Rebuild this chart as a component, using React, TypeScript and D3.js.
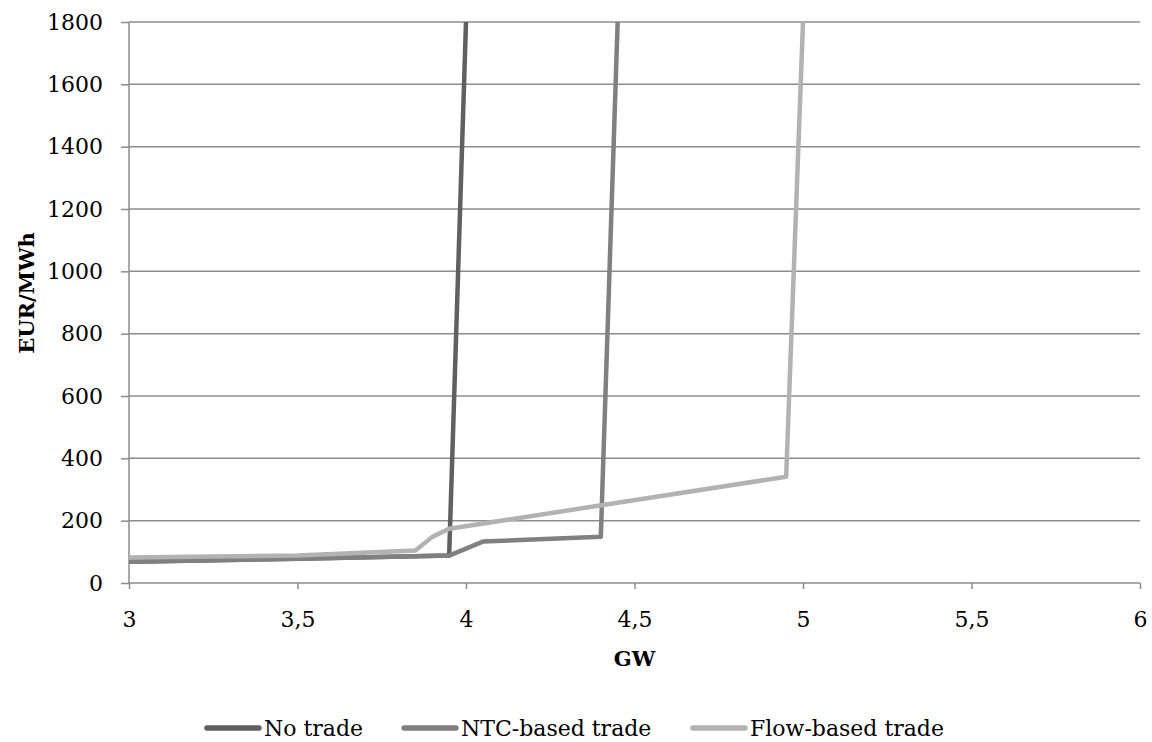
import { useEffect, useRef } from "react";
import * as d3 from "d3";

const width = 1152;
const height = 742;
const margin = { top: 22, right: 12, bottom: 159, left: 129 };

// GW / EUR per MWh
const noTradeX = [3, 3.5, 3.95, 4];
const noTradeY = [68, 78, 88, 1800];
const ntcX = [3, 3.5, 3.95, 4.05, 4.4, 4.45];
const ntcY = [68, 78, 88, 133, 148, 1800];
const flowX = [3, 3.5, 3.85, 3.9, 3.95, 4.95, 5];
const flowY = [82, 88, 104, 148, 174, 341, 1800];

const xTicks = [3, 3.5, 4, 4.5, 5, 5.5, 6];
const yTicks = [0, 200, 400, 600, 800, 1000, 1200, 1400, 1600, 1800];

const series = [
  { name: "No trade", xs: noTradeX, ys: noTradeY, color: "#606060" },
  { name: "NTC-based trade", xs: ntcX, ys: ntcY, color: "#808080" },
  { name: "Flow-based trade", xs: flowX, ys: flowY, color: "#b2b2b2" },
];

const font = "'DejaVu Serif', serif";
const fontSize = 22;
const gridColor = "#8c8c8c";

export default function App() {
  const svgRef = useRef<SVGSVGElement>(null);

  useEffect(() => {
    if (!svgRef.current) return;
    const svg = d3.select(svgRef.current);
    svg.selectAll("*").remove();

    const x = d3.scaleLinear().domain([3, 6]).range([margin.left, width - margin.right]);
    const y = d3.scaleLinear().domain([0, 1800]).range([height - margin.bottom, margin.top]);

    // horizontal gridlines
    svg
      .append("g")
      .selectAll("line")
      .data(yTicks.filter((t) => t > 0))
      .join("line")
      .attr("x1", margin.left)
      .attr("x2", width - margin.right)
      .attr("y1", (d) => y(d))
      .attr("y2", (d) => y(d))
      .attr("stroke", gridColor)
      .attr("stroke-width", 1.5);

    const yAxis = svg
      .append("g")
      .attr("transform", `translate(${margin.left},0)`)
      .call(d3.axisLeft(y).tickValues(yTicks).tickSize(8).tickPadding(18).tickFormat(d3.format("d")));
    const xAxis = svg
      .append("g")
      .attr("transform", `translate(0,${height - margin.bottom})`)
      .call(
        d3
          .axisBottom(x)
          .tickValues(xTicks)
          .tickSize(6)
          .tickPadding(22)
          .tickFormat((d) => String(d).replace(".", ","))
      );

    [yAxis, xAxis].forEach((a) => {
      a.select(".domain").attr("stroke", gridColor).attr("stroke-width", 1.5);
      a.selectAll(".tick line").attr("stroke", gridColor).attr("stroke-width", 1.5);
      a.selectAll("text").attr("font-family", font).attr("font-size", fontSize).attr("fill", "#000");
    });
    xAxis.select(".domain").attr("d", `M${margin.left},0H${width - margin.right}`);
    yAxis.select(".domain").attr("d", `M0,${margin.top}V${height - margin.bottom}`);

    const line = d3
      .line<[number, number]>()
      .x((d) => x(d[0]))
      .y((d) => y(d[1]));

    svg
      .append("g")
      .selectAll("path")
      .data(series)
      .join("path")
      .attr("d", (s) => line(s.xs.map((v, i) => [v, s.ys[i]] as [number, number])))
      .attr("fill", "none")
      .attr("stroke", (s) => s.color)
      .attr("stroke-width", 4.5)
      .attr("stroke-linejoin", "round");

    svg
      .append("text")
      .attr("x", (margin.left + width - margin.right) / 2)
      .attr("y", 666)
      .attr("text-anchor", "middle")
      .attr("font-family", font)
      .attr("font-weight", "bold")
      .attr("font-size", 21)
      .text("GW");

    svg
      .append("text")
      .attr("transform", `translate(34,293) rotate(-90)`)
      .attr("text-anchor", "middle")
      .attr("font-family", font)
      .attr("font-weight", "bold")
      .attr("font-size", 21)
      .text("EUR/MWh");

    // legend
    const legendX = [207, 404, 693];
    const legend = svg
      .append("g")
      .selectAll("g")
      .data(series)
      .join("g")
      .attr("transform", (_, i) => `translate(${legendX[i]},728)`);
    legend
      .append("line")
      .attr("x1", 0)
      .attr("x2", 52)
      .attr("stroke", (s) => s.color)
      .attr("stroke-width", 5.5)
      .attr("stroke-linecap", "round");
    legend
      .append("text")
      .attr("x", 57)
      .attr("y", 8)
      .attr("font-family", font)
      .attr("font-size", 22)
      .text((s) => s.name);
  }, []);

  return (
    <svg
      ref={svgRef}
      width={width}
      height={height}
      style={{ position: "absolute", left: 0, top: 0, background: "#fff" }}
    />
  );
}
